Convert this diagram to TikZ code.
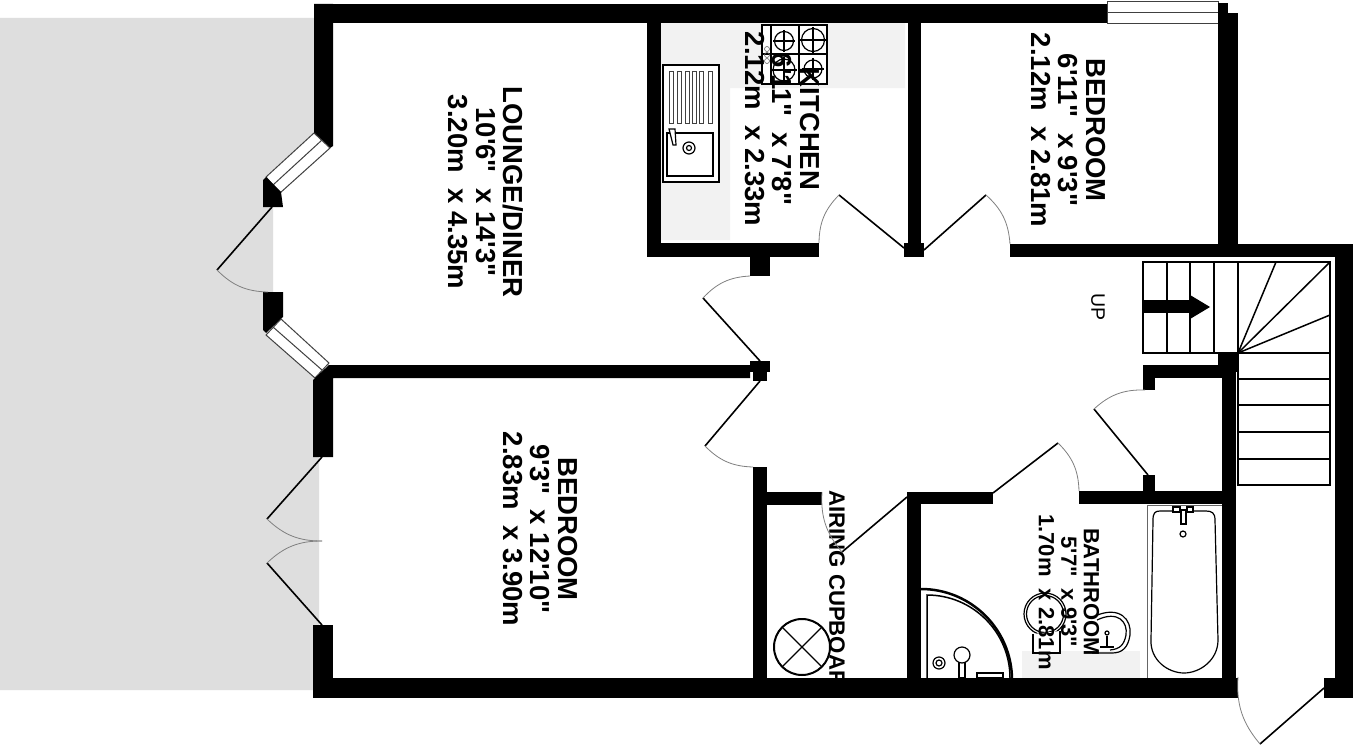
\documentclass[tikz,border=0pt]{standalone}
\usepackage{fontspec}
\setmainfont{Liberation Sans}[Ligatures=TeXOff]
\begin{document}
\begin{tikzpicture}[x=1pt, y=-1pt]
\tikzset{wall/.style={fill=black, draw=none}}
\tikzset{leaf/.style={draw=black, line width=1.6pt}}
\tikzset{swing/.style={draw=gray, line width=0.8pt}}
\tikzset{fixture/.style={draw=black, line width=1.2pt}}
\tikzset{tread/.style={draw=black, line width=1.5pt}}
\tikzset{glazing/.style={draw=black!75, line width=1pt, fill=white}}
\tikzset{roomlabel/.style={rotate=-90, align=center, inner sep=0pt, font=\fontsize{27.5}{27.5}\selectfont\bfseries}}
\tikzset{smalllabel/.style={rotate=-90, align=center, inner sep=0pt, font=\fontsize{22}{22.5}\selectfont\bfseries}}
\useasboundingbox (0,0) rectangle (1360,752);
\fill[white] (0,0) rectangle (1360,752);
\fill[black!13] (0,18) -- (314,18) -- (314,133) -- (265,177) -- (265,207) -- (273,207) -- (273,292) -- (265,292) -- (265,333) -- (315,378) -- (319,457) -- (319,625) -- (314,690) -- (0,690) -- cycle;
\fill[black!5] (661,23) -- (905,23) -- (905,88) -- (730,88) -- (730,240) -- (661,240) -- cycle;
\fill[black!5] (1022,651) rectangle (1140,678);
\draw[fixture, fill=white] (663,65) rectangle (719,182);
\foreach \slotx in {669,677,685,692,699,708} {
  \draw[black!75, line width=0.8pt] (\slotx,71) rectangle ++(4,52);
}
\draw[fixture] (667,133) rectangle (713,176);
\draw[fixture] (689,148) circle (6);
\draw[fixture] (689,148) circle (2.5);
\draw[fixture, fill=white] (669,129) -- (675,129) -- (676,145) -- (673,145) -- cycle;
\draw[fixture, fill=white] (762,25) rectangle (827,84);
\draw[fixture] (771,25) -- (771,84);
\draw[fixture] (799,25) -- (799,84);
\draw[fixture] (762,54) -- (827,54);
\draw[fixture] (773,41) -- (795,41);
\draw[fixture] (784,30) -- (784,52);
\draw[fixture] (800,40) -- (826,40);
\draw[fixture] (813,27) -- (813,53);
\draw[fixture] (771,70) -- (797,70);
\draw[fixture] (784,57) -- (784,83);
\draw[fixture] (802,69) -- (824,69);
\draw[fixture] (813,58) -- (813,80);
\draw[fixture] (784,41) circle (9.5);
\draw[fixture] (813,40) circle (11.5);
\draw[fixture] (784,70) circle (11);
\draw[fixture] (813,69) circle (9);
\foreach \knoby in {49,55,61} {
  \draw[black!60, line width=0.6pt] (767,\knoby) circle (2.5);
}
\draw[tread] (1143,262) rectangle (1330,353);
\foreach \risex in {1167,1190,1214,1238} {
  \draw[tread] (\risex,262) -- (\risex,353);
}
\draw[tread] (1238,353) -- (1276,262);
\draw[tread] (1238,353) -- (1330,262);
\draw[tread] (1238,353) -- (1330,315);
\draw[tread] (1238,353) rectangle (1330,485);
\foreach \risey in {379,405,432,459} {
  \draw[tread] (1238,\risey) -- (1330,\risey);
}
\fill[wall] (1143,300) rectangle (1190,313);
\fill[wall] (1190,295) -- (1210,307) -- (1190,319) -- cycle;
\draw[black!60, line width=1pt, fill=white] (1147,505) rectangle (1222,678);
\draw[fixture] (1153,520) .. controls (1153,513) and (1155,511) .. (1160,511) -- (1206,511) .. controls (1212,511) and (1215,513) .. (1215,520) -- (1218,640) .. controls (1218,660) and (1200,673) .. (1184,673) .. controls (1168,673) and (1150,660) .. (1151,640) -- cycle;
\draw[fixture, fill=white] (1181,510) rectangle (1186,524);
\draw[fixture, fill=white] (1173,507) rectangle (1180,512);
\draw[fixture, fill=white] (1187,507) rectangle (1193,512);
\draw[fixture] (1183,534) circle (3);
\draw[line width=2.5pt] (921,589) arc[start angle=-90, end angle=0, radius=91];
\draw[line width=1.5pt] (927,678) -- (927,595) arc[start angle=-90, end angle=0, radius=83];
\draw[fixture, fill=white] (959,660) rectangle (965,678);
\draw[fixture, fill=white] (962,655) circle (8);
\draw[fixture] (939,663) circle (6);
\draw[fixture] (939,663) circle (3);
\draw[fixture, fill=white] (977,673) rectangle (1003,678);
\draw[fixture] (1045,614) circle (21);
\draw[fixture] (1045,614) circle (18.5);
\draw[fixture, fill=white] (1033,634) -- (1033,653) -- (1060,653) -- (1060,631);
\draw[fixture] (1095,616) .. controls (1120,605) and (1132,620) .. (1130,635) .. controls (1128,648) and (1122,653) .. (1112,653) -- (1092,653);
\draw[fixture] (1097,620) .. controls (1118,610) and (1128,622) .. (1126,635) .. controls (1124,645) and (1120,649) .. (1110,650);
\draw[fixture] (1107,633) circle (2);
\draw[fixture] (1107,636) -- (1107,648);
\draw[fixture] (1100,647) -- (1114,647);
\draw[line width=2pt] (802,647) circle (28);
\draw[fixture] (782,627) -- (822,667);
\draw[fixture] (782,667) -- (822,627);
\node[roomlabel] (loungelabel) at (486,192) {LOUNGE/DINER\\10'6"~~x 14'3"\\3.20m~~x 4.35m};
\node[roomlabel] (kitchenlabel) at (782,129) {KITCHEN\\6'11"~~x 7'8"\\2.12m~~x 2.33m};
\node[roomlabel] (rearbedlabel) at (1068,130) {BEDROOM\\6'11"~~x 9'3"\\2.12m~~x 2.81m};
\node[roomlabel] (frontbedlabel) at (540,529) {BEDROOM\\9'3"~~x 12'10"\\2.83m~~x 3.90m};
\node[smalllabel] (bathlabel) at (1069,592) {BATHROOM\\5'7"~~x 9'3"\\1.70m~~x 2.81m};
\begin{scope}
\clip (0,0) rectangle (1360,678);
\node[rotate=-90, inner sep=0pt, anchor=west, font=\fontsize{22.2}{24}\selectfont\bfseries] (cupboardlabel) at (837,490) {AIRING CUPBOARD};
\end{scope}
\node[rotate=-90, inner sep=0pt, font=\fontsize{19.5}{21}\selectfont] (uplabel) at (1098,307) {UP};
\fill[wall] (314,4) rectangle (1107,23);
\draw[glazing] (1107,2) rectangle (1218,24);
\draw[black!75, line width=1pt] (1107,13) -- (1218,13);
\fill[wall] (1218,3) rectangle (1228,13);
\fill[wall] (1218,13) rectangle (1238,257);
\fill[wall] (314,4) -- (333,4) -- (333,146) -- (330,148) -- (314,133) -- cycle;
\draw[glazing] (314,133) -- (330,148) -- (280,193) -- (266,177) -- cycle;
\draw[black!75, line width=1pt] (322,140) -- (273,185);
\fill[wall] (266,177) -- (281,192) -- (283,207) -- (263,207) -- (263,180) -- cycle;
\fill[wall] (263,292) -- (283,292) -- (283,317) -- (266,333) -- (263,330) -- cycle;
\draw[glazing] (266,335) -- (281,319) -- (329,363) -- (315,378) -- cycle;
\draw[black!75, line width=1pt] (273,327) -- (322,370);
\fill[wall] (329,365) -- (750,365) -- (750,378) -- (333,378) -- (333,457) -- (313,457) -- (313,380) -- cycle;
\fill[wall] (750,361) rectangle (770,372);
\fill[wall] (753,372) rectangle (767,381);
\fill[wall] (313,625) rectangle (333,697);
\fill[wall] (313,678) rectangle (1238,698);
\fill[wall] (647,4) rectangle (661,257);
\fill[wall] (647,243) rectangle (819,257);
\fill[wall] (750,257) rectangle (770,276);
\fill[wall] (908,4) rectangle (921,243);
\fill[wall] (904,243) rectangle (924,257);
\fill[wall] (1010,244) rectangle (1353,257);
\fill[wall] (1335,244) rectangle (1353,698);
\fill[wall] (1324,678) rectangle (1353,698);
\fill[wall] (1218,353) rectangle (1238,372);
\fill[wall] (1222,365) rectangle (1236,678);
\fill[wall] (1143,365) rectangle (1222,378);
\fill[wall] (1143,378) rectangle (1155,390);
\fill[wall] (1143,475) rectangle (1155,491);
\fill[wall] (1079,491) rectangle (1236,504);
\fill[wall] (907,492) rectangle (993,504);
\fill[wall] (907,492) rectangle (921,678);
\fill[wall] (753,467) rectangle (767,678);
\fill[wall] (767,492) rectangle (822,505);
\draw[leaf] (904,248) -- (839,195);
\draw[swing] (839,195) to[bend right=22] (819,243);
\draw[leaf] (760,361) -- (703,298);
\draw[swing] (703,298) to[bend left=22] (750,276);
\draw[leaf] (760,381) -- (705,446);
\draw[swing] (705,446) to[bend right=22] (753,467);
\draw[leaf] (924,250) -- (986,195);
\draw[swing] (986,195) to[bend left=22] (1010,244);
\draw[leaf] (1148,475) -- (1094,409);
\draw[swing] (1094,409) to[bend left=22] (1145,390);
\draw[leaf] (993,493) -- (1058,443);
\draw[swing] (1058,443) to[bend left=22] (1079,491);
\draw[leaf] (907,497) -- (842,552);
\draw[swing] (822,492) to[bend right=22] (842,552);
\draw[leaf] (1324,688) -- (1260,744);
\draw[swing] (1238,677) to[bend right=22] (1260,744);
\draw[leaf] (272,207) -- (217,270);
\draw[swing] (217,270) to[bend right=22] (268,292);
\draw[leaf] (322,457) -- (267,519);
\draw[swing] (267,519) to[bend right=22] (322,541);
\draw[leaf] (322,625) -- (267,563);
\draw[swing] (267,563) to[bend left=22] (322,541);
\end{tikzpicture}
\end{document}
